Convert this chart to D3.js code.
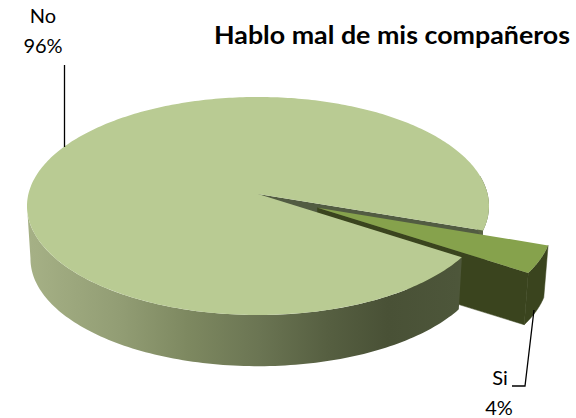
<!DOCTYPE html>
<html><head><meta charset="utf-8">
<style>html,body{margin:0;background:#fff}svg{display:block}text{font-family:Lato,"Open Sans",sans-serif;fill:#000}</style>
<script src="https://cdn.jsdelivr.net/npm/d3@7"></script></head>
<body><svg id="c" width="576" height="418"></svg>
<script>
const categories = ["No", "Si"];
const values = [96, 4];
const percentLabels = ["96%", "4%"];
const title = "Hablo mal de mis compañeros";

const deg = Math.PI / 180;
const svg = d3.select("#c");
const line = d3.line();

// perspective projection of the unit disc
const k = -0.11;
const project = (u, v, bottom) => {
  const w = 1 + k * v;
  const s = bottom ? 0.985 : 1;
  return [258 + 229.6 * s * u / w, (bottom ? 247 : 194) + 107.7 * s * v / w];
};
const slices = d3.pie().value(d => d).sort(null)
  .startAngle(123.5 * deg).endAngle(483.5 * deg)(values);
// d3 angle (0 at 12 o'clock, clockwise) to disc coordinates
const disc = (a, r = 1, dx = 0, dy = 0) => [r * Math.sin(a) + dx, -r * Math.cos(a) + dy];
const arcPts = (a0, a1, dx, dy, bottom) => d3.range(0, 121).map(i => {
  const d = disc(a0 + (a1 - a0) * i / 120, 1, dx, dy);
  return project(d[0], d[1], bottom);
});

const no = slices[0], si = slices[1];
const siMid = (si.startAngle + si.endAngle) / 2;
const explode = 0.285;
const ex = Math.sin(siMid) * explode, ey = -Math.cos(siMid) * explode;

const defs = svg.append("defs");
const g = defs.append("linearGradient").attr("id", "wall").attr("gradientUnits", "userSpaceOnUse")
  .attr("x1", 27).attr("x2", 490).attr("y1", 0).attr("y2", 0);
[[0, "#a6b186"], [0.2, "#929d74"], [0.35, "#7d8860"], [0.5, "#6b7553"], [0.65, "#565f41"], [0.78, "#495136"], [0.93, "#4d563a"], [1, "#5a6444"]]
  .forEach(s => g.append("stop").attr("offset", s[0]).attr("stop-color", s[1]));

// No: inner cut face and rim behind the Si slice
const p0 = project(0, 0), p0b = project(0, 0, true);
const a = no.endAngle;
const noEdge = project(...disc(a)), noEdgeB = project(...disc(a, 1), true);
svg.append("path").attr("fill", "#525c42")
  .attr("d", line([p0, noEdge, noEdgeB, p0b]) + "Z");
svg.append("path").attr("fill", "#5a6444")
  .attr("d", line(arcPts(a, 440 * deg, 0, 0, false).concat(arcPts(a, 440 * deg, 0, 0, true).reverse())) + "Z");

// Si: exploded slice
const sa0 = si.startAngle, sa1 = si.endAngle;
const ap = project(ex, ey), apB = project(ex, ey, true);
const siTop = arcPts(sa0, sa1, ex, ey, false), siBot = arcPts(sa0, sa1, ex, ey, true);
svg.append("path").attr("fill", "#3a441e").attr("stroke", "#3a441e").attr("stroke-width", 0.5)
  .attr("d", line(siTop.concat(siBot.slice().reverse())) + "Z");
svg.append("path").attr("fill", "#3a441e").attr("stroke", "#3a441e").attr("stroke-width", 0.5)
  .attr("d", line([ap, siTop[120], siBot[120], apB]) + "Z");
svg.append("path").attr("fill", "#86a24c")
  .attr("d", line([ap].concat(siTop)) + "Z");

// No: front wall and top
const wallStart = no.startAngle, wallEnd = 264 * deg;
svg.append("path").attr("fill", "url(#wall)")
  .attr("d", line(arcPts(wallStart, wallEnd, 0, 0, false).concat(arcPts(wallStart, wallEnd, 0, 0, true).reverse())) + "Z");
const topPts = d3.range(0, 361).map(i => {
  const d = disc(no.startAngle + (no.endAngle - no.startAngle) * i / 360);
  return project(d[0], d[1]);
});
svg.append("path").attr("fill", "#b9cb93").attr("d", line([p0].concat(topPts)) + "Z");

// leader lines
svg.append("path").attr("fill", "none").attr("stroke", "#000").attr("stroke-width", 1.3)
  .attr("d", "M64.5,65V147");
svg.append("path").attr("fill", "none").attr("stroke", "#000").attr("stroke-width", 1.3)
  .attr("d", "M534,310L525,386H512");

// text
svg.append("text").attr("x", 392).attr("y", 44).attr("text-anchor", "middle")
  .attr("font-size", 24).attr("font-weight", 700).attr("textLength", 356).attr("lengthAdjust", "spacingAndGlyphs").text(title);
svg.append("text").attr("x", 43).attr("y", 23).attr("text-anchor", "middle").attr("font-size", 20).text(categories[0]);
svg.append("text").attr("x", 43).attr("y", 53).attr("text-anchor", "middle").attr("font-size", 20).text(percentLabels[0]);
svg.append("text").attr("x", 500).attr("y", 385).attr("text-anchor", "middle").attr("font-size", 20).text(categories[1]);
svg.append("text").attr("x", 499).attr("y", 415).attr("text-anchor", "middle").attr("font-size", 20).text(percentLabels[1]);
</script></body></html>
